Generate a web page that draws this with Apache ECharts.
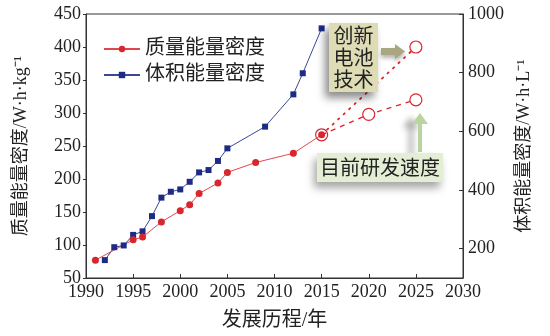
<!DOCTYPE html>
<html>
<head>
<meta charset="utf-8">
<script src="https://cdn.jsdelivr.net/npm/echarts@6/dist/echarts.min.js"></script>
<style>
  html, body { margin: 0; padding: 0; background: #fff; }
  #chart { width: 550px; height: 336px; }
</style>
</head>
<body>
<div id="chart"></div>
<script>
// Gravimetric energy density (W·h/kg), left axis: [year, value]
const massYears  = [1991, 1995, 1996, 1998, 2000, 2001, 2002, 2004, 2005, 2008, 2012, 2015];
const massValues = [77, 108, 112, 135, 152, 161, 178, 194, 210, 225, 239, 267];

// Volumetric energy density (W·h/L), right axis
const volYears  = [1992, 1993, 1994, 1995, 1996, 1997, 1998, 1999, 2000, 2001, 2002, 2003, 2004, 2005, 2009, 2012, 2013, 2015];
const volValues = [161, 205, 211, 247, 259, 311, 374, 394, 402, 428, 460, 468, 499, 542, 616, 726, 798, 951];

// Projections of gravimetric density
const trendYears  = [2015, 2020, 2025];   // current R&D pace
const trendValues = [267, 298, 320];
const newTechYears  = [2015, 2025];       // new battery technology
const newTechValues = [267, 400];

// Axis ticks
const xTicks = { min: 1990, max: 2030, step: 5 };
const leftTicks = { min: 50, max: 450, step: 50 };
const rightRange = { min: 100, max: 1000 };
const rightTickLabels = [200, 400, 600, 800, 1000];

const names = {
  mass: '质量能量密度',
  vol: '体积能量密度',
  xAxis: '发展历程/年',
  left: '质量能量密度/W·h·kg⁻¹',
  right: '体积能量密度/W·h·L⁻¹',
  newTech: '创新\n电池\n技术',
  pace: '目前研发速度'
};

const zip = (xs, ys) => xs.map((x, i) => [x, ys[i]]);

const FONT = '"Liberation Serif", "Noto Sans CJK SC", serif';
const RED = '#d8262e';
const RED_LINE = '#e0474c';
const BLUE = '#1d2b85';
const BLUE_LINE = '#3b4795';
const INK = '#222';

const chart = echarts.init(document.getElementById('chart'));

chart.setOption({
  animation: false,
  textStyle: { fontFamily: FONT, color: INK },
  grid: {
    left: 86, right: 87, top: 14, bottom: 58,
    show: true, borderColor: '#333', borderWidth: 1, backgroundColor: 'transparent'
  },
  legend: {
    data: [names.mass, names.vol],
    orient: 'vertical',
    left: 98, top: 34,
    itemWidth: 36, itemHeight: 8, itemGap: 6,
    textStyle: { fontSize: 20, fontFamily: FONT, color: INK }
  },
  xAxis: {
    type: 'value',
    min: xTicks.min, max: xTicks.max, interval: xTicks.step,
    name: names.xAxis,
    nameLocation: 'middle', nameGap: 33,
    nameTextStyle: { fontSize: 20, fontFamily: FONT, color: INK },
    axisLine: { lineStyle: { color: '#333', width: 1 } },
    axisTick: { inside: true, length: 4, lineStyle: { color: '#333' } },
    axisLabel: { fontSize: 18, fontFamily: FONT, color: INK, margin: 5, formatter: v => String(v) },
    splitLine: { show: false }
  },
  yAxis: [
    {
      type: 'value',
      min: leftTicks.min, max: leftTicks.max, interval: leftTicks.step,
      name: names.left,
      nameLocation: 'middle', nameGap: 56, nameRotate: 90,
      nameTextStyle: { fontSize: 18, fontFamily: FONT, color: INK },
      axisLine: { show: true, lineStyle: { color: '#333', width: 1 } },
      axisTick: { show: true, length: 3, lineStyle: { color: '#333' } },
      axisLabel: { fontSize: 18, fontFamily: FONT, color: INK, margin: 5, formatter: v => String(v) },
      splitLine: { show: false }
    },
    {
      type: 'value',
      position: 'right',
      min: rightRange.min, max: rightRange.max,
      name: names.right,
      nameLocation: 'middle', nameGap: 50, nameRotate: 90,
      nameTextStyle: { fontSize: 18, fontFamily: FONT, color: INK },
      axisLine: { show: true, lineStyle: { color: '#333', width: 1 } },
      axisTick: { show: true, inside: true, length: 4, customValues: rightTickLabels, lineStyle: { color: '#333' } },
      axisLabel: {
        fontSize: 18, fontFamily: FONT, color: INK, margin: 5,
        customValues: rightTickLabels, formatter: v => String(v)
      },
      splitLine: { show: false }
    }
  ],
  series: [
    {
      name: names.newTech.replace(/\n/g, ''),
      type: 'line',
      yAxisIndex: 0,
      z: 1,
      data: newTechYears.map((y, i) => ({
        value: [y, newTechValues[i]],
        symbol: i === 0 ? 'none' : 'circle'
      })),
      symbolSize: 12,
      itemStyle: { color: '#fff', borderColor: RED, borderWidth: 1.2 },
      lineStyle: { color: RED, width: 1.8, type: [1.5, 6], cap: 'round' }
    },
    {
      name: names.pace,
      type: 'line',
      yAxisIndex: 0,
      z: 1,
      data: trendYears.map((y, i) => ({
        value: [y, trendValues[i]],
        itemStyle: i === 0 ? { color: 'rgba(0,0,0,0)' } : undefined
      })),
      symbol: 'circle',
      symbolSize: 12,
      itemStyle: { color: '#fff', borderColor: RED, borderWidth: 1.2 },
      lineStyle: { color: RED, width: 1.3, type: [5, 5] }
    },
    {
      name: names.vol,
      type: 'line',
      yAxisIndex: 1,
      z: 3,
      data: zip(volYears, volValues),
      symbol: 'rect',
      symbolSize: 6,
      itemStyle: { color: BLUE },
      lineStyle: { color: BLUE_LINE, width: 1 }
    },
    {
      name: names.mass,
      type: 'line',
      yAxisIndex: 0,
      z: 3,
      data: zip(massYears, massValues),
      symbol: 'circle',
      symbolSize: 7,
      itemStyle: { color: RED },
      lineStyle: { color: RED_LINE, width: 1 }
    }
  ],
  graphic: [
    // "new battery technology" callout
    {
      type: 'rect', z: 10,
      shape: { x: 329, y: 23, width: 49, height: 69 },
      style: { fill: '#dedcb4', shadowBlur: 8, shadowOffsetX: -4, shadowOffsetY: 6, shadowColor: 'rgba(0,0,0,0.45)' }
    },
    {
      type: 'text', z: 11,
      x: 353.5, y: 57.5,
      style: {
        text: names.newTech, fill: INK, font: '20px "Noto Sans CJK SC"',
        align: 'center', verticalAlign: 'middle', lineHeight: 22
      }
    },
    {
      type: 'polygon', z: 10,
      shape: { points: [[381, 48], [395, 48], [395, 44], [405, 51.5], [395, 59], [395, 55], [381, 55]] },
      style: { fill: '#a9a780', shadowBlur: 4, shadowOffsetY: 3, shadowColor: 'rgba(0,0,0,0.3)' }
    },
    // "current R&D pace" callout
    {
      type: 'polygon', z: 9,
      shape: { points: [[418, 152], [418, 124], [412, 124], [420, 113], [428, 124], [422, 124], [422, 152]] },
      style: { fill: '#b9d49e', shadowBlur: 6, shadowOffsetX: -9, shadowOffsetY: 4, shadowColor: 'rgba(0,0,0,0.35)' }
    },
    {
      type: 'rect', z: 10,
      shape: { x: 317, y: 153, width: 126, height: 29 },
      style: { fill: '#e3eed4', shadowBlur: 8, shadowOffsetX: -3, shadowOffsetY: 6, shadowColor: 'rgba(0,0,0,0.35)' }
    },
    {
      type: 'text', z: 11,
      x: 380, y: 167.5,
      style: {
        text: names.pace, fill: INK, font: '20px "Noto Sans CJK SC"',
        align: 'center', verticalAlign: 'middle'
      }
    }
  ]
});
</script>
</body>
</html>
